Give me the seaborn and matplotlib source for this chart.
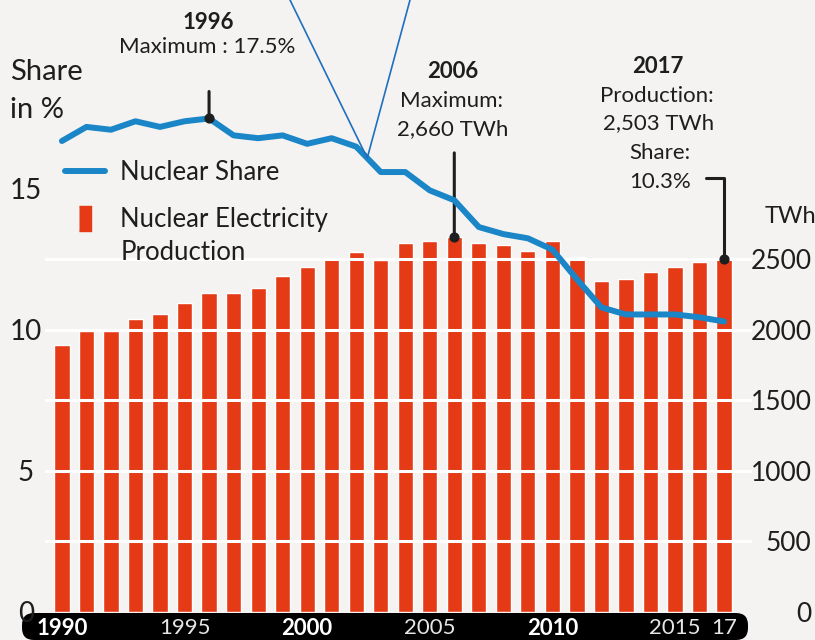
import numpy as np
import pandas as pd
import matplotlib.pyplot as plt
import seaborn as sns
from matplotlib.lines import Line2D
from matplotlib.patches import FancyBboxPatch
from matplotlib.transforms import IdentityTransform

# Data
years = list(range(1990, 2018))
production_twh = [1890, 1990, 1990, 2075, 2115, 2190, 2265, 2265, 2300, 2385,
                  2445, 2510, 2555, 2495, 2620, 2628, 2660, 2615, 2605, 2560,
                  2628, 2518, 2350, 2362, 2410, 2445, 2480, 2503]
nuclear_share = [16.7, 17.2, 17.1, 17.4, 17.2, 17.4, 17.5, 16.9, 16.8, 16.9,
                 16.6, 16.8, 16.5, 15.6, 15.6, 14.95, 14.6, 13.65, 13.4, 13.25,
                 12.85, 11.8, 10.8, 10.55, 10.55, 10.55, 10.45, 10.3]
share_ticks = [0, 5, 10, 15]
twh_ticks = [0, 500, 1000, 1500, 2000, 2500]
year_tick_pos = [1990, 1995, 2000, 2005, 2010, 2015, 2017]
year_tick_labels = ['1990', '1995', '2000', '2005', '2010', '2015', '17']
bold_year_labels = ['1990', '2000', '2010']

df = pd.DataFrame({'Year': years, 'TWh': production_twh, 'Share': nuclear_share})

BG = '#f4f3f1'
RED = '#e43a16'
BLUE = '#1a86c8'
INK = '#1e1e1e'

sns.set_theme(style='white', rc={'axes.facecolor': BG, 'figure.facecolor': BG})
plt.rcParams['font.family'] = ['Lato', 'DejaVu Sans']

W, H = 815, 640
fig = plt.figure(figsize=(W / 100, H / 100), dpi=100)
ax = fig.add_axes([45 / W, 28 / H, 707 / W, 612 / H])
ax2 = ax.twinx()

# bars: production (TWh) on host axis, ticks on the right
sns.barplot(data=df, x='Year', y='TWh', native_scale=True, width=0.62,
            color=RED, saturation=1, errorbar=None, ax=ax)
ax.set_xlim(1989.31, 2018.14)
ax.set_ylim(0, 4340)
ax.set_yticks(twh_ticks)
ax.yaxis.tick_right()
ax.grid(axis='y', color='white', lw=2.2)
ax.set_axisbelow(False)
ax.get_ygridlines()[0].set_visible(False)
ax.tick_params(axis='y', length=0, pad=43, labelsize=19, labelcolor=INK)
for lab in ax.get_yticklabels():
    lab.set_ha('right')
ax.set_xticks(year_tick_pos, year_tick_labels)
ax.tick_params(axis='x', length=0, pad=4, labelsize=16, labelcolor='white')
for lab in ax.get_xticklabels():
    if lab.get_text() in bold_year_labels:
        lab.set_fontweight('bold')
    else:
        lab.set_color('#e6e6e6')
ax.set_xlabel('')
ax.set_ylabel('')

# line: share (%) on twin axis, ticks on the left
sns.lineplot(data=df, x='Year', y='Share', color=BLUE, lw=4.3,
             solid_joinstyle='round', solid_capstyle='round', legend=False, ax=ax2)
ax2.set_ylim(0, 21.7)
ax2.set_yticks(share_ticks)
ax2.yaxis.tick_left()
ax2.tick_params(axis='y', length=0, pad=13.7, labelsize=20, labelcolor=INK)
for lab in ax2.get_yticklabels():
    lab.set_ha('center')
ax2.set_ylabel('')

for a in (ax, ax2):
    for s in a.spines.values():
        s.set_visible(False)

# black rounded band behind the year labels
band = FancyBboxPatch((22, 0), 726, 27, boxstyle='round,pad=0,rounding_size=12',
                      transform=IdentityTransform(), facecolor='black',
                      edgecolor='none', zorder=-1)
fig.add_artist(band)

# callouts
max96 = df[df['Year'] == 1996]
ax2.scatter(max96['Year'], max96['Share'], color=INK, s=40, zorder=5)
ax2.annotate('', xy=(1996, max96['Share'].iloc[0]), xytext=(0, 19.4),
             textcoords='offset points',
             arrowprops=dict(arrowstyle='-', color=INK, lw=2.2, shrinkA=0, shrinkB=0))

marks = df[df['Year'].isin([2006, 2017])]
ax.scatter(marks['Year'], marks['TWh'], color=INK, s=40, zorder=5)
ax.annotate('', xy=(2006, marks['TWh'].iloc[0]), xytext=(0, 60.5),
            textcoords='offset points',
            arrowprops=dict(arrowstyle='-', color=INK, lw=2.2, shrinkA=0, shrinkB=0))
ax.annotate('', xy=(2017, marks['TWh'].iloc[1]), xytext=(-13, 58),
            textcoords='offset points',
            arrowprops=dict(arrowstyle='-', color=INK, lw=2.2, shrinkA=0, shrinkB=0,
                            connectionstyle='angle,angleA=0,angleB=90,rad=0'))

# thin blue pointer lines coming from above
vx = 2002.45
vy = np.interp(vx, years, nuclear_share)
for fx in (290 / W, 410 / W):
    ax2.annotate('', xy=(vx, vy), xytext=(fx, 1.0), textcoords='figure fraction',
                 arrowprops=dict(arrowstyle='-', color='#1f6fbf', lw=1.2,
                                 shrinkA=0, shrinkB=0))


def put(x, y, s, size=16, weight='normal', ha='center'):
    fig.text(x / W, 1 - y / H, s, ha=ha, va='baseline', fontsize=size,
             fontweight=weight, color=INK)


put(208, 29, '1996', weight='bold')
put(207, 53, 'Maximum : 17.5%')
put(453, 78, '2006', weight='bold')
put(451, 107, 'Maximum:')
put(453, 135, '2,660 TWh')
put(658, 73, '2017', weight='bold')
put(657, 102, 'Production:')
put(659, 129, '2,503 TWh')
put(660, 159, 'Share:')
put(660, 188, '10.3%')
put(10, 80, 'Share', size=21, ha='left')
put(10, 118, 'in %', size=21, ha='left')
put(790, 223, 'TWh', size=17)

# legend (bar handle sits next to the first text line)
bar_marker = [(-0.25, 0.25), (0.25, 0.25), (0.25, 1.25), (-0.25, 1.25)]
handles = [Line2D([0], [0], color=BLUE, lw=4.3),
           Line2D([0], [0], color=RED, lw=0, marker=bar_marker, markersize=45)]
leg = ax2.legend(handles, ['Nuclear Share', 'Nuclear Electricity\nProduction'],
                 loc='upper left', bbox_to_anchor=(65 / W, 1 - 160 / H),
                 bbox_transform=fig.transFigure, frameon=False, fontsize=18.5,
                 handlelength=1.55, handletextpad=0.6, borderpad=0, borderaxespad=0,
                 labelspacing=0.86, labelcolor=INK)
for t in leg.get_texts():
    t.set_linespacing(1.38)

fig.savefig('out.png', dpi=100)
